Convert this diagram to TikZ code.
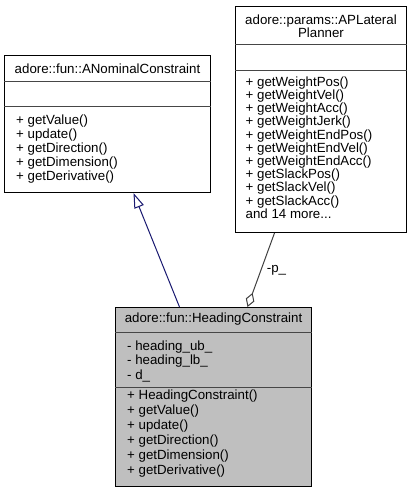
\documentclass[tikz,border=0pt]{standalone}
\usepackage{fontspec}
\setmainfont{Liberation Sans}
\usetikzlibrary{arrows.meta,positioning,calc}
\definecolor{edgeblue}{RGB}{25,25,112}
\definecolor{edgegrey}{RGB}{64,64,64}
\definecolor{boxgrey}{RGB}{191,191,191}
\definecolor{sepgrey}{RGB}{70,70,70}

\begin{document}
\begin{tikzpicture}[x=1pt,y=-1pt,
    every node/.style={font=\fontsize{13.3}{14}\selectfont},
    classbox/.style={draw=black,line width=1pt,fill=white,anchor=north west,inner sep=0pt},
    sepline/.style={draw=sepgrey,line width=1pt},
    members/.style={anchor=west,align=left,inner sep=0pt},
    title/.style={align=center,inner sep=0pt},
    genline/.style={draw=edgeblue,line width=1pt,-{Triangle[open,length=15pt,width=10pt]}},
    aggline/.style={draw=edgegrey,line width=1pt,-{Diamond[open,length=15pt,width=9pt]}}]
  \useasboundingbox (0,0) rectangle (411,492);

  \node[classbox,minimum width=206pt,minimum height=137pt] (anom) at (4,55) {};
  \draw[sepline] ([yshift=-27pt]anom.north west) -- ([yshift=-27pt]anom.north east);
  \draw[sepline] ([yshift=-52pt]anom.north west) -- ([yshift=-52pt]anom.north east);
  \node[title] (anom-name) at ([yshift=-13.5pt]anom.north) {adore::fun::ANominalConstraint};
  \node[members] (anom-ops) at ([xshift=12pt,yshift=-94pt]anom.north west) {
    + getValue()\\
    + update()\\
    + getDirection()\\
    + getDimension()\\
    + getDerivative()
  };

  \node[classbox,minimum width=171pt,minimum height=226pt] (plan) at (235,6) {};
  \draw[sepline] ([yshift=-39pt]plan.north west) -- ([yshift=-39pt]plan.north east);
  \draw[sepline] ([yshift=-65pt]plan.north west) -- ([yshift=-65pt]plan.north east);
  \node[title,font=\fontsize{13.3}{13}\selectfont] (plan-name) at ([yshift=-20pt]plan.north) {
    adore::params::APLateral\\
    Planner
  };
  \node[members,font=\fontsize{13.3}{13.2}\selectfont] (plan-ops) at ([xshift=10.5pt,yshift=-141.5pt]plan.north west) {
    + getWeightPos()\\
    + getWeightVel()\\
    + getWeightAcc()\\
    + getWeightJerk()\\
    + getWeightEndPos()\\
    + getWeightEndVel()\\
    + getWeightEndAcc()\\
    + getSlackPos()\\
    + getSlackVel()\\
    + getSlackAcc()\\
    and 14 more...
  };

  \node[classbox,fill=boxgrey,minimum width=196pt,minimum height=179pt] (hc) at (115,307) {};
  \draw[sepline] ([yshift=-25pt]hc.north west) -- ([yshift=-25pt]hc.north east);
  \draw[sepline] ([yshift=-80pt]hc.north west) -- ([yshift=-80pt]hc.north east);
  \node[title] (hc-name) at ([yshift=-12.5pt]hc.north) {adore::fun::HeadingConstraint};
  \node[members,font=\fontsize{13.3}{14.5}\selectfont] (hc-attrs) at ([xshift=12pt,yshift=-54pt]hc.north west) {
    - heading\_ub\_\\
    - heading\_lb\_\\
    - d\_
  };
  \node[members,font=\fontsize{13.3}{15}\selectfont] (hc-ops) at ([xshift=12pt,yshift=-127pt]hc.north west) {
    + HeadingConstraint()\\
    + getValue()\\
    + update()\\
    + getDirection()\\
    + getDimension()\\
    + getDerivative()
  };

  \coordinate (gen-s) at ([xshift=-34pt]hc.north);
  \coordinate (gen-e) at ([xshift=26pt]anom.south);
  \draw[genline] (gen-s) -- (gen-e);
  \coordinate (agg-s) at ([xshift=-46.5pt]plan.south);
  \coordinate (agg-e) at ([xshift=34pt]hc.north);
  \draw[aggline] (agg-s) -- node[anchor=west,xshift=2pt] (agg-label) {-p\_} (agg-e);
\end{tikzpicture}
\end{document}
